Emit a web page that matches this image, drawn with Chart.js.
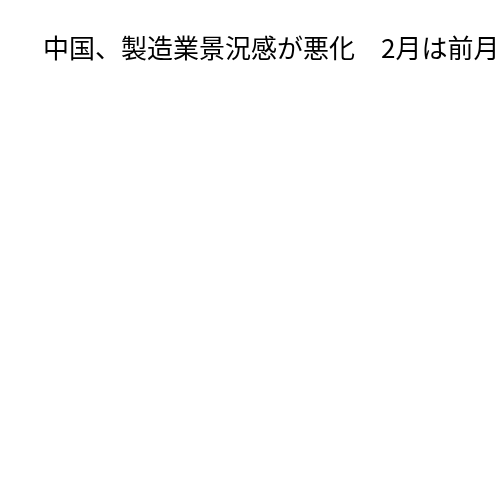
<!DOCTYPE html>
<html>
<head>
<meta charset="utf-8">
<script src="https://cdn.jsdelivr.net/npm/chart.js@4"></script>
<style>
  html, body { margin: 0; padding: 0; background: #fff; }
  #wrap { width: 500px; height: 500px; }
</style>
</head>
<body>
<div id="wrap"><canvas id="myChart"></canvas></div>
<script>
// the reference shows only the title; the plot itself is blank
const titleText = '中国、製造業景況感が悪化　2月は前月';
const months = [];
const pmiValues = [];

window.addEventListener('DOMContentLoaded', () => {
  const ctx = document.getElementById('myChart');

  const chart = new Chart(ctx, {
    type: 'line',
    data: {
      labels: months,
      datasets: [{
        label: 'PMI',
        data: pmiValues,
        borderColor: '#000',
      }]
    },
    options: {
      responsive: true,
      maintainAspectRatio: false,
      animation: false,
      layout: {
        padding: { left: 43, right: 0, top: 0, bottom: 0 }
      },
      plugins: {
        legend: { display: false },
        tooltip: { enabled: false },
        title: {
          display: true,
          text: titleText,
          align: 'start',
          color: '#000',
          font: { family: '"Noto Sans CJK JP", sans-serif', size: 26, weight: 'normal' },
          padding: { top: 33, bottom: 10 }
        }
      },
      scales: {
        x: { display: false },
        y: { display: false }
      }
    }
  });
});
</script>
</body>
</html>
